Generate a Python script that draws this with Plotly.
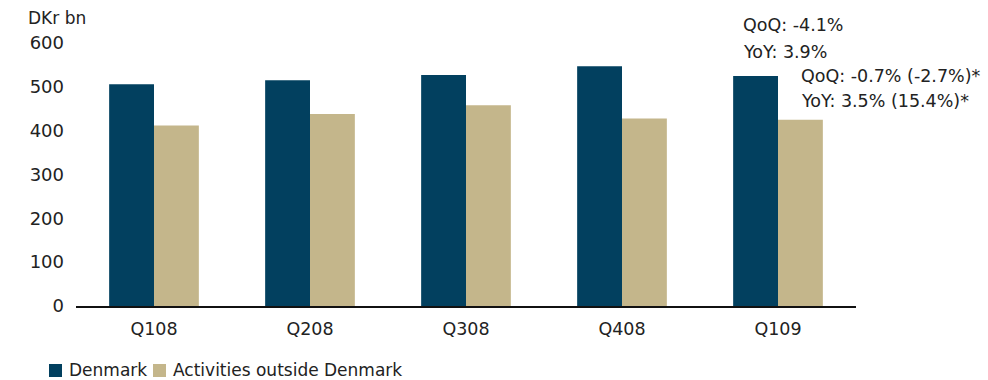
import plotly.graph_objects as go

quarters = ["Q108", "Q208", "Q308", "Q408", "Q109"]
denmark = [506, 515, 527, 547, 525]
outside = [412, 438, 458, 428, 425]
y_ticks = [0, 100, 200, 300, 400, 500, 600]
series_names = ["Denmark", "Activities outside Denmark"]

NAVY = "#02405F"
SAND = "#C4B68B"
TEXT = "#222222"
FONT = "DejaVu Sans"

fig = go.Figure()
fig.add_trace(go.Bar(x=quarters, y=denmark, name=series_names[0],
                     marker_color=NAVY, marker_line_width=0))
fig.add_trace(go.Bar(x=quarters, y=outside, name=series_names[1],
                     marker_color=SAND, marker_line_width=0))

W, H = 988, 380
ml, mr, mt, mb = 76, 132, 43, 74
pw, ph = W - ml - mr, H - mt - mb


def px(xp):
    return (xp - ml) / pw


def py(yp):
    return (H - mb - yp) / ph


annotations = [
    dict(text="DKr bn", x=px(26), y=py(18), size=17),
    dict(text="QoQ: -4.1%", x=px(741), y=py(25), size=17.5),
    dict(text="YoY: 3.9%", x=px(741), y=py(52), size=17.5),
    dict(text="QoQ: -0.7% (-2.7%)*", x=px(799), y=py(76), size=17.5),
    dict(text="YoY: 3.5% (15.4%)*", x=px(799), y=py(101), size=17.5),
]

# legend drawn beneath the axis: colour swatch + label per series
shapes = []
legend_items = [(49, 67, NAVY, series_names[0]), (153, 171, SAND, series_names[1])]
for sx, tx, col, name in legend_items:
    shapes.append(dict(type="rect", xref="paper", yref="paper",
                       x0=px(sx), x1=px(sx + 13), y0=py(377), y1=py(364),
                       fillcolor=col, line_width=0))
    annotations.append(dict(text=name, x=px(tx), y=py(370), size=17))

for a in annotations:
    size = a.pop("size")
    a.update(xref="paper", yref="paper", xanchor="left", yanchor="middle",
             showarrow=False, font=dict(family=FONT, size=size, color=TEXT))

fig.update_layout(
    width=W, height=H,
    margin=dict(l=ml, r=mr, t=mt, b=mb, pad=0, autoexpand=False),
    paper_bgcolor="white", plot_bgcolor="white",
    barmode="group", bargap=0.425, bargroupgap=0,
    font=dict(family=FONT, size=18, color=TEXT),
    showlegend=False,
    annotations=annotations,
    shapes=shapes,
)
fig.update_xaxes(showline=True, linecolor="#111111", linewidth=1.5,
                 showgrid=False, ticks="", tickfont=dict(size=17.5),
                 ticklabelstandoff=6)
fig.update_yaxes(range=[0, 600], tickvals=y_ticks, showgrid=False,
                 zeroline=False, showline=False, ticks="",
                 tickfont=dict(size=18), ticklabelstandoff=11)

fig.write_html("out.html")
